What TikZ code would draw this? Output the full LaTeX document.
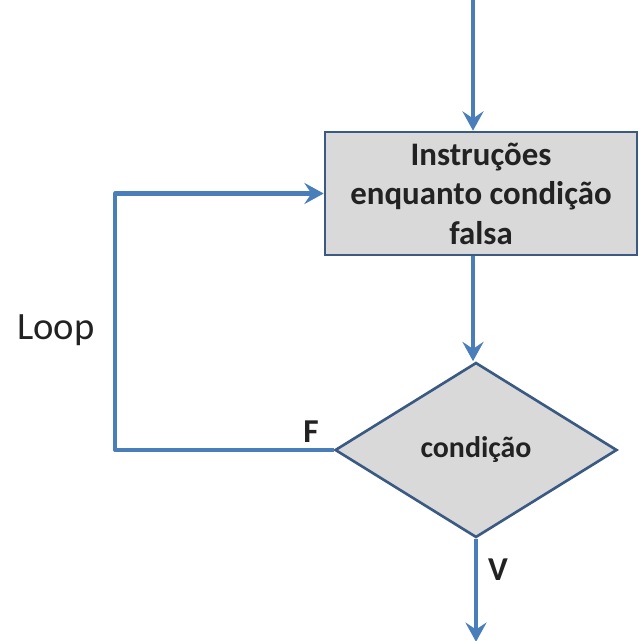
\documentclass[tikz,border=0pt]{standalone}
\usepackage{fontspec}
\setmainfont{Carlito}
\usetikzlibrary{positioning,arrows.meta,shapes.geometric,calc}
\definecolor{flow}{HTML}{4A7EBB}
\definecolor{frame}{HTML}{3A5A84}
\definecolor{boxfill}{HTML}{D9D9D9}
\definecolor{ink}{HTML}{222222}

\begin{document}
\begin{tikzpicture}[
  >={Stealth[length=11pt,width=12pt,inset=4pt]},
  flowline/.style={draw=flow,line width=2.3pt,->},
  instr/.style={rectangle,draw=frame,fill=boxfill,line width=1.5pt,
                minimum width=6.24cm,minimum height=2.46cm,align=center,
                font=\fontsize{18.7}{22.5}\selectfont\bfseries,text=ink},
  decision/.style={diamond,draw=frame,fill=boxfill,line width=1.5pt,
                   minimum width=5.64cm,minimum height=3.5cm,inner sep=0pt,
                   font=\fontsize{17}{20}\selectfont\bfseries,text=ink},
  lbl/.style={font=\fontsize{19}{22}\selectfont\bfseries,text=ink},
]
\useasboundingbox (0,0) rectangle (12.84,-12.82);

% main blocks
\node[instr]    (box)  at (9.62,-3.87) {Instruções\\enquanto condição\\falsa};
\node[decision] (cond) at (9.52,-9.0)  {condição};

% fixed ends
\coordinate (top) at (9.46,0);
\coordinate (lp)  at (2.3,-9.0);
\coordinate (out) at ($(cond.south)+(0,-2.06)$);

% connectors
\draw[flowline] (top) -- (top |- box.north);
\draw[flowline] (top |- box.south) -- (top |- cond.north);
\draw[flowline,line join=round] (cond.west) -- (lp) |- (box.west);
\draw[flowline] (cond.south) -- (out);

% labels
\node[lbl]  (lf)   at (6.22,-8.64) {F};
\node[lbl]  (lv)   at (9.96,-11.4) {V};
\node[font=\fontsize{22}{25}\selectfont,text=ink] (loop) at (1.12,-6.6) {Loop};
\end{tikzpicture}
\end{document}
